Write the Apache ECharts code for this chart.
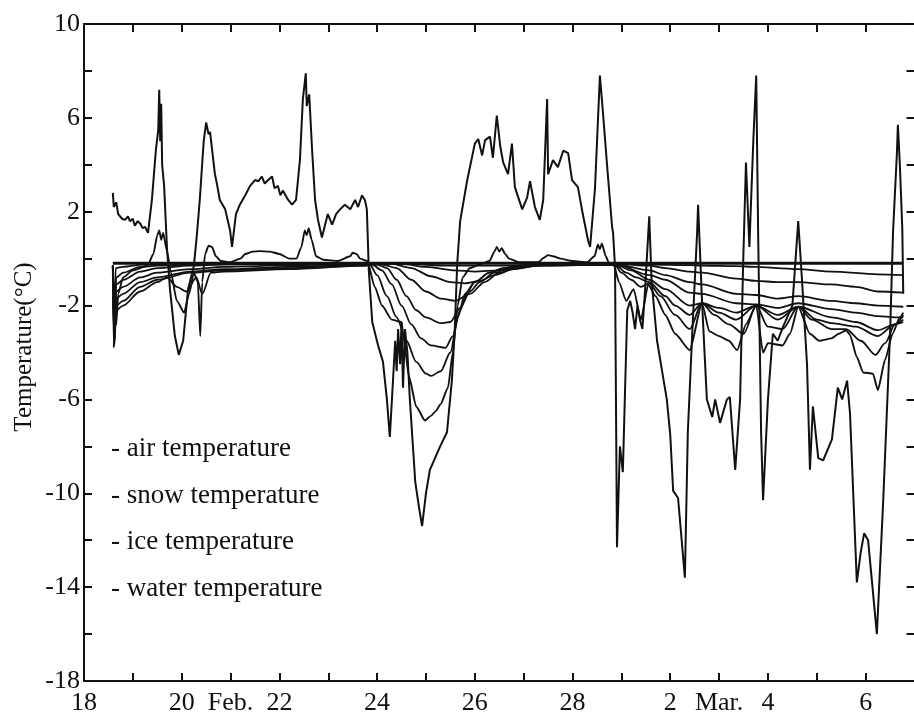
<!DOCTYPE html>
<html>
<head>
<meta charset="utf-8">
<script src="https://cdn.jsdelivr.net/npm/echarts@6/dist/echarts.min.js"></script>
<style>
html,body{margin:0;padding:0;background:#fff;}
#chart{width:914px;height:716px;}
</style>
</head>
<body>
<div id="chart"></div>
<script>
// ---- tick labels ----
const xLabelDays = [18, 20, 21, 22, 24, 26, 28, 30, 31, 32, 34];
const xLabelTexts = ['18', '20', 'Feb.', '22', '24', '26', '28', '2', 'Mar.', '4', '6'];
const yLabelValues = [-18, -14, -10, -6, -2, 2, 6, 10];
const legendNotes = ['- air temperature', '- snow temperature', '- ice temperature', '- water temperature'];
const yTitle = 'Temperature(°C)';

// ---- data: [day (18 = 18 Feb, 29 = 1 Mar), temperature °C] ----
const airT = [[18.59,2.8],[18.61,2.2],[18.66,2.4],[18.70,1.9],[18.78,1.7],[18.84,1.65],[18.90,1.8],[18.94,1.6],[19.00,1.7],[19.04,1.4],[19.10,1.6],[19.15,1.5],[19.20,1.3],[19.25,1.35],[19.31,1.1],[19.39,2.5],[19.47,4.6],[19.52,5.5],[19.54,7.2],[19.56,5.0],[19.58,6.6],[19.60,4.0],[19.64,3.1],[19.70,0.4],[19.76,-1.3],[19.86,-3.3],[19.94,-4.1],[20.03,-3.5],[20.13,-1.3],[20.25,-0.3],[20.31,1.0],[20.37,2.5],[20.45,5.0],[20.50,5.8],[20.55,5.3],[20.58,5.4],[20.68,3.6],[20.72,3.2],[20.78,2.5],[20.89,2.1],[20.99,1.2],[21.03,0.5],[21.11,1.9],[21.19,2.3],[21.30,2.7],[21.40,3.1],[21.50,3.35],[21.57,3.3],[21.64,3.5],[21.70,3.2],[21.77,3.35],[21.85,3.5],[21.90,3.0],[21.97,3.1],[22.02,2.7],[22.07,2.9],[22.18,2.5],[22.26,2.3],[22.34,2.5],[22.42,4.2],[22.48,6.8],[22.54,7.9],[22.56,6.5],[22.61,7.0],[22.67,4.6],[22.73,2.5],[22.79,1.65],[22.87,0.9],[22.99,1.9],[23.08,1.45],[23.16,1.9],[23.24,2.1],[23.34,2.3],[23.45,2.1],[23.55,2.5],[23.61,2.2],[23.69,2.7],[23.75,2.5],[23.79,2.1],[23.83,-0.5],[23.90,-2.7],[24.02,-3.7],[24.12,-4.4],[24.20,-6.0],[24.26,-7.6],[24.33,-5.0],[24.37,-3.5],[24.40,-4.8],[24.43,-3.0],[24.47,-4.5],[24.50,-2.7],[24.53,-5.5],[24.57,-3.0],[24.62,-4.0],[24.67,-6.0],[24.78,-9.5],[24.85,-10.5],[24.92,-11.4],[25.00,-10.0],[25.08,-9.0],[25.29,-8.0],[25.43,-7.4],[25.53,-5.2],[25.59,-3.0],[25.64,-0.2],[25.70,1.6],[25.84,3.3],[26.00,4.9],[26.07,5.1],[26.15,4.4],[26.21,5.05],[26.31,5.2],[26.37,4.3],[26.45,6.1],[26.52,4.8],[26.58,4.1],[26.68,3.6],[26.76,4.9],[26.82,3.05],[26.97,2.1],[27.07,2.6],[27.13,3.3],[27.23,2.2],[27.33,1.65],[27.40,2.5],[27.48,6.8],[27.50,3.6],[27.60,4.2],[27.70,3.9],[27.81,4.6],[27.91,4.5],[27.99,3.35],[28.11,3.05],[28.21,1.9],[28.32,0.76],[28.36,0.5],[28.46,3.0],[28.56,7.8],[28.62,6.3],[28.71,3.9],[28.81,1.35],[28.83,1.1],[28.87,-0.35],[28.91,-12.3],[28.97,-8.0],[29.03,-9.1],[29.07,-6.0],[29.12,-2.2],[29.18,-1.8],[29.23,-2.3],[29.28,-3.0],[29.33,-2.0],[29.38,-2.6],[29.43,-3.0],[29.48,-1.5],[29.57,1.8],[29.62,-1.0],[29.73,-3.5],[29.83,-4.75],[29.93,-6.0],[30.00,-7.5],[30.06,-9.9],[30.16,-10.2],[30.30,-13.6],[30.36,-7.4],[30.45,-3.2],[30.55,1.1],[30.57,2.3],[30.65,-1.8],[30.75,-6.0],[30.86,-6.75],[30.92,-6.0],[31.02,-7.0],[31.16,-6.0],[31.22,-5.9],[31.33,-9.0],[31.43,-6.0],[31.49,-0.4],[31.55,4.1],[31.62,0.5],[31.70,5.0],[31.76,7.8],[31.80,1.0],[31.86,-7.4],[31.90,-10.3],[32.00,-6.0],[32.10,-3.2],[32.20,-3.5],[32.31,-2.9],[32.50,-2.0],[32.62,1.6],[32.70,-1.0],[32.80,-4.5],[32.86,-9.0],[32.92,-6.3],[33.03,-8.5],[33.13,-8.6],[33.31,-7.7],[33.43,-5.5],[33.52,-6.0],[33.62,-5.2],[33.68,-6.6],[33.82,-13.8],[33.90,-12.5],[33.97,-11.7],[34.05,-12.0],[34.23,-16.0],[34.36,-10.3],[34.50,-3.2],[34.56,1.1],[34.64,4.5],[34.66,5.7],[34.70,4.0],[34.75,1.3],[34.77,-1.5]];

const waterT = [[18.59,-0.2],[34.77,-0.2]];

const layer1 = [[18.59,-0.3],[18.62,-2.2],[18.65,-0.4],[18.8,-0.35],[19.2,-0.25],[20.0,-0.22],[24.5,-0.22],[25.5,-0.3],[26.5,-0.3],[28.9,-0.22],[29.6,-0.25],[30.4,-0.28],[30.65,-0.3],[31.35,-0.32],[31.76,-0.35],[32.2,-0.4],[32.62,-0.45],[33.3,-0.55],[34.25,-0.67],[34.77,-0.7]];

const layer2 = [[18.59,-0.3],[18.62,-2.6],[18.66,-0.8],[18.8,-0.6],[19.15,-0.35],[19.5,-0.3],[20.17,-0.25],[20.85,-0.22],[22.2,-0.2],[24.5,-0.22],[25.0,-0.35],[25.6,-0.5],[26.0,-0.55],[26.5,-0.5],[27.0,-0.35],[27.5,-0.25],[28.9,-0.22],[29.57,-0.3],[29.9,-0.4],[30.4,-0.55],[30.65,-0.6],[31.35,-0.85],[31.76,-0.95],[32.2,-1.0],[32.62,-1.0],[33.3,-1.1],[33.8,-1.2],[34.25,-1.4],[34.77,-1.45]];

const layer3 = [[18.59,-0.3],[18.62,-3.0],[18.66,-1.1],[18.8,-0.9],[19.15,-0.55],[19.5,-0.4],[20.17,-0.3],[20.85,-0.25],[22.2,-0.22],[23.75,-0.2],[24.3,-0.22],[24.7,-0.4],[25.1,-0.75],[25.5,-1.0],[25.8,-1.05],[26.1,-0.95],[26.4,-0.7],[26.8,-0.45],[27.3,-0.3],[28.9,-0.25],[29.57,-0.5],[29.9,-0.7],[30.4,-1.0],[30.65,-1.1],[31.35,-1.5],[31.76,-1.55],[32.2,-1.7],[32.62,-1.6],[33.3,-1.8],[33.8,-1.9],[34.25,-2.0],[34.77,-2.05]];

const layer4 = [[18.59,-0.3],[18.62,-3.3],[18.66,-1.4],[18.8,-1.2],[19.15,-0.8],[19.5,-0.6],[20.17,-0.45],[20.85,-0.35],[22.2,-0.28],[23.75,-0.22],[24.1,-0.25],[24.4,-0.4],[24.7,-0.9],[25.0,-1.4],[25.3,-1.7],[25.6,-1.8],[25.9,-1.5],[26.2,-1.0],[26.5,-0.6],[26.9,-0.35],[27.3,-0.25],[28.9,-0.25],[29.57,-0.7],[29.9,-0.9],[30.4,-1.45],[30.65,-1.5],[31.35,-1.9],[31.76,-1.95],[32.2,-2.1],[32.62,-1.9],[33.3,-2.15],[33.8,-2.3],[34.25,-2.45],[34.6,-2.5],[34.77,-2.5]];

const layer5 = [[18.59,-0.3],[18.62,-3.5],[18.66,-1.7],[18.8,-1.5],[19.15,-1.0],[19.5,-0.8],[20.17,-0.55],[20.85,-0.45],[22.2,-0.35],[23.75,-0.25],[24.0,-0.25],[24.2,-0.4],[24.4,-0.9],[24.6,-1.6],[24.8,-2.2],[25.0,-2.5],[25.3,-2.75],[25.5,-2.7],[25.7,-2.1],[25.9,-1.4],[26.1,-1.0],[26.4,-0.6],[26.8,-0.35],[27.2,-0.25],[28.88,-0.25],[29.2,-0.5],[29.57,-0.9],[29.9,-1.3],[30.4,-2.0],[30.65,-1.9],[31.0,-2.1],[31.35,-2.3],[31.76,-2.0],[32.2,-2.4],[32.62,-2.05],[33.3,-2.5],[33.8,-2.7],[34.25,-3.05],[34.6,-2.8],[34.77,-2.7]];

const layer6 = [[18.59,-0.3],[18.62,-3.6],[18.66,-2.0],[18.8,-1.8],[19.15,-1.2],[19.5,-0.9],[20.17,-0.6],[20.85,-0.5],[22.2,-0.4],[23.75,-0.3],[23.9,-0.25],[24.1,-0.5],[24.3,-1.1],[24.5,-2.0],[24.7,-2.8],[24.9,-3.4],[25.1,-3.7],[25.4,-3.8],[25.55,-3.3],[25.7,-2.2],[25.85,-1.4],[26.0,-1.0],[26.3,-0.6],[26.6,-0.4],[27.0,-0.3],[28.87,-0.25],[29.1,-0.6],[29.3,-0.8],[29.57,-1.0],[29.9,-1.6],[30.1,-2.0],[30.4,-2.4],[30.65,-1.9],[31.0,-2.3],[31.35,-2.6],[31.76,-2.0],[32.2,-2.6],[32.62,-2.05],[33.0,-2.6],[33.3,-2.75],[33.8,-2.9],[34.25,-3.3],[34.6,-2.8],[34.77,-2.6]];

const layer7 = [[18.59,-0.3],[18.62,-3.7],[18.66,-2.2],[18.8,-2.0],[19.15,-1.4],[19.5,-1.0],[19.7,-0.8],[19.9,-1.2],[20.1,-1.4],[20.3,-0.8],[20.42,-1.5],[20.6,-0.6],[20.85,-0.55],[22.2,-0.45],[23.75,-0.3],[23.85,-0.25],[24.0,-0.7],[24.2,-1.6],[24.4,-2.5],[24.6,-3.5],[24.8,-4.4],[25.0,-4.9],[25.1,-5.0],[25.3,-4.8],[25.5,-4.0],[25.65,-2.5],[25.8,-1.5],[26.0,-1.0],[26.3,-0.6],[26.6,-0.4],[27.0,-0.28],[28.86,-0.25],[29.0,-0.6],[29.2,-0.9],[29.4,-1.2],[29.57,-1.05],[29.8,-1.6],[30.1,-2.4],[30.4,-3.0],[30.65,-1.9],[30.9,-2.4],[31.2,-2.8],[31.5,-3.2],[31.76,-2.0],[32.0,-2.9],[32.3,-3.0],[32.62,-2.05],[32.9,-2.6],[33.3,-3.0],[33.6,-3.0],[33.9,-3.5],[34.2,-4.1],[34.4,-3.6],[34.6,-2.8],[34.77,-2.4]];

const snowTop = [[18.59,-0.3],[18.61,-3.8],[18.63,-1.0],[18.66,-2.8],[18.7,-1.5],[18.8,-0.8],[19.0,-0.5],[19.3,-0.3],[19.42,0.2],[19.5,1.0],[19.54,1.2],[19.58,0.8],[19.62,1.1],[19.7,0.3],[19.78,-0.6],[19.9,-1.8],[20.05,-2.3],[20.15,-1.5],[20.25,-0.6],[20.33,-1.0],[20.38,-3.3],[20.42,-1.0],[20.48,0.2],[20.55,0.55],[20.62,0.5],[20.7,0.1],[20.8,-0.1],[21.0,-0.15],[21.2,0.0],[21.3,0.2],[21.45,0.3],[21.6,0.32],[21.8,0.3],[22.0,0.2],[22.2,0.0],[22.35,0.0],[22.45,0.5],[22.52,1.2],[22.56,1.0],[22.6,1.3],[22.66,0.8],[22.75,0.1],[22.9,-0.05],[23.2,-0.1],[23.45,0.1],[23.5,0.25],[23.58,0.2],[23.65,0.0],[23.8,-0.1],[23.95,-1.2],[24.1,-2.0],[24.3,-2.6],[24.5,-2.7],[24.55,-3.5],[24.65,-5.0],[24.8,-6.3],[24.98,-6.9],[25.1,-6.7],[25.2,-6.5],[25.3,-6.2],[25.45,-5.5],[25.55,-4.0],[25.65,-2.0],[25.75,-0.8],[25.9,-0.4],[26.1,-0.25],[26.3,-0.1],[26.4,0.3],[26.45,0.5],[26.5,0.3],[26.55,0.45],[26.62,0.2],[26.7,0.0],[26.9,-0.15],[27.3,-0.15],[27.42,0.05],[27.5,0.15],[27.6,0.1],[27.75,0.0],[28.0,-0.1],[28.3,-0.15],[28.45,0.1],[28.52,0.6],[28.56,0.4],[28.6,0.65],[28.68,0.1],[28.75,-0.2],[28.85,-0.3],[28.95,-1.0],[29.1,-1.8],[29.25,-1.3],[29.4,-2.6],[29.55,-1.1],[29.7,-1.6],[29.9,-2.4],[30.1,-3.2],[30.4,-3.9],[30.65,-1.9],[30.8,-3.1],[31.0,-3.3],[31.2,-3.5],[31.37,-3.9],[31.55,-2.8],[31.76,-2.0],[31.9,-4.0],[32.0,-3.6],[32.3,-3.7],[32.45,-3.2],[32.62,-2.05],[32.86,-3.2],[33.05,-3.5],[33.3,-3.4],[33.45,-3.2],[33.6,-3.05],[33.68,-3.25],[33.82,-4.2],[33.95,-4.85],[34.15,-4.9],[34.25,-5.6],[34.4,-4.3],[34.55,-3.2],[34.7,-2.5],[34.77,-2.3]];

const layerSeries = [layer1, layer2, layer3, layer4, layer5, layer6, layer7];

// ---- style ----
const INK = '#111';
const FONT = 'Liberation Serif, Times New Roman, serif';

const chart = echarts.init(document.getElementById('chart'), null, {renderer: 'canvas'});

function xFmt(v) {
  const i = xLabelDays.indexOf(Math.round(v));
  return i >= 0 ? xLabelTexts[i] : '';
}
function yFmt(v) {
  return yLabelValues.indexOf(Math.round(v)) >= 0 ? String(Math.round(v)) : '';
}

const axisLineStyle = {show: true, onZero: false, lineStyle: {color: INK, width: 2}};
const tickStyle = {show: true, inside: true, length: 8, lineStyle: {color: INK, width: 2}};

const series = [];
layerSeries.forEach((d) => {
  series.push({type: 'line', data: d, showSymbol: false, symbol: 'none', smooth: 0.3, smoothMonotone: 'x',
    lineStyle: {color: INK, width: 1.8}, z: 2, silent: true});
});
series.push({type: 'line', data: snowTop, showSymbol: false, symbol: 'none', smooth: 0.2, smoothMonotone: 'x',
  lineStyle: {color: INK, width: 1.9}, z: 3, silent: true});
series.push({type: 'line', data: waterT, showSymbol: false, symbol: 'none',
  lineStyle: {color: INK, width: 3}, z: 3, silent: true});
series.push({type: 'line', data: airT, showSymbol: false, symbol: 'none',
  lineStyle: {color: INK, width: 2}, z: 4, silent: true});

const option = {
  animation: false,
  backgroundColor: '#fff',
  grid: {left: 84, top: 24, width: 830.5, height: 657, containLabel: false, outerBoundsMode: 'none'},
  xAxis: [
    {type: 'value', position: 'bottom', min: 18, max: 35, interval: 1,
      axisLine: axisLineStyle, axisTick: tickStyle, splitLine: {show: false},
      axisLabel: {formatter: xFmt, color: INK, fontFamily: FONT, fontSize: 26, margin: 9, showMaxLabel: true, showMinLabel: true}},
    {type: 'value', position: 'top', min: 18, max: 35, interval: 1,
      axisLine: axisLineStyle, axisTick: tickStyle, splitLine: {show: false}, axisLabel: {show: false}}
  ],
  yAxis: [
    {type: 'value', position: 'left', min: -18, max: 10, interval: 2,
      axisLine: axisLineStyle, axisTick: tickStyle, splitLine: {show: false},
      axisLabel: {formatter: yFmt, color: INK, fontFamily: FONT, fontSize: 26, margin: 4}},
    {type: 'value', position: 'right', min: -18, max: 10, interval: 2,
      axisLine: axisLineStyle, axisTick: tickStyle, splitLine: {show: false}, axisLabel: {show: false}}
  ],
  graphic: [
    {type: 'text', x: 24, y: 347, rotation: Math.PI / 2,
      style: {text: yTitle, fill: INK, font: '25px ' + FONT, align: 'center', verticalAlign: 'middle'}},
  ].concat(legendNotes.map((t, i) => ({
    type: 'text', x: 111, y: 449 + i * 46.7,
    style: {text: t, fill: INK, font: '27px ' + FONT, align: 'left', verticalAlign: 'middle'}
  }))),
  series: series
};
chart.setOption(option);
</script>
</body>
</html>
